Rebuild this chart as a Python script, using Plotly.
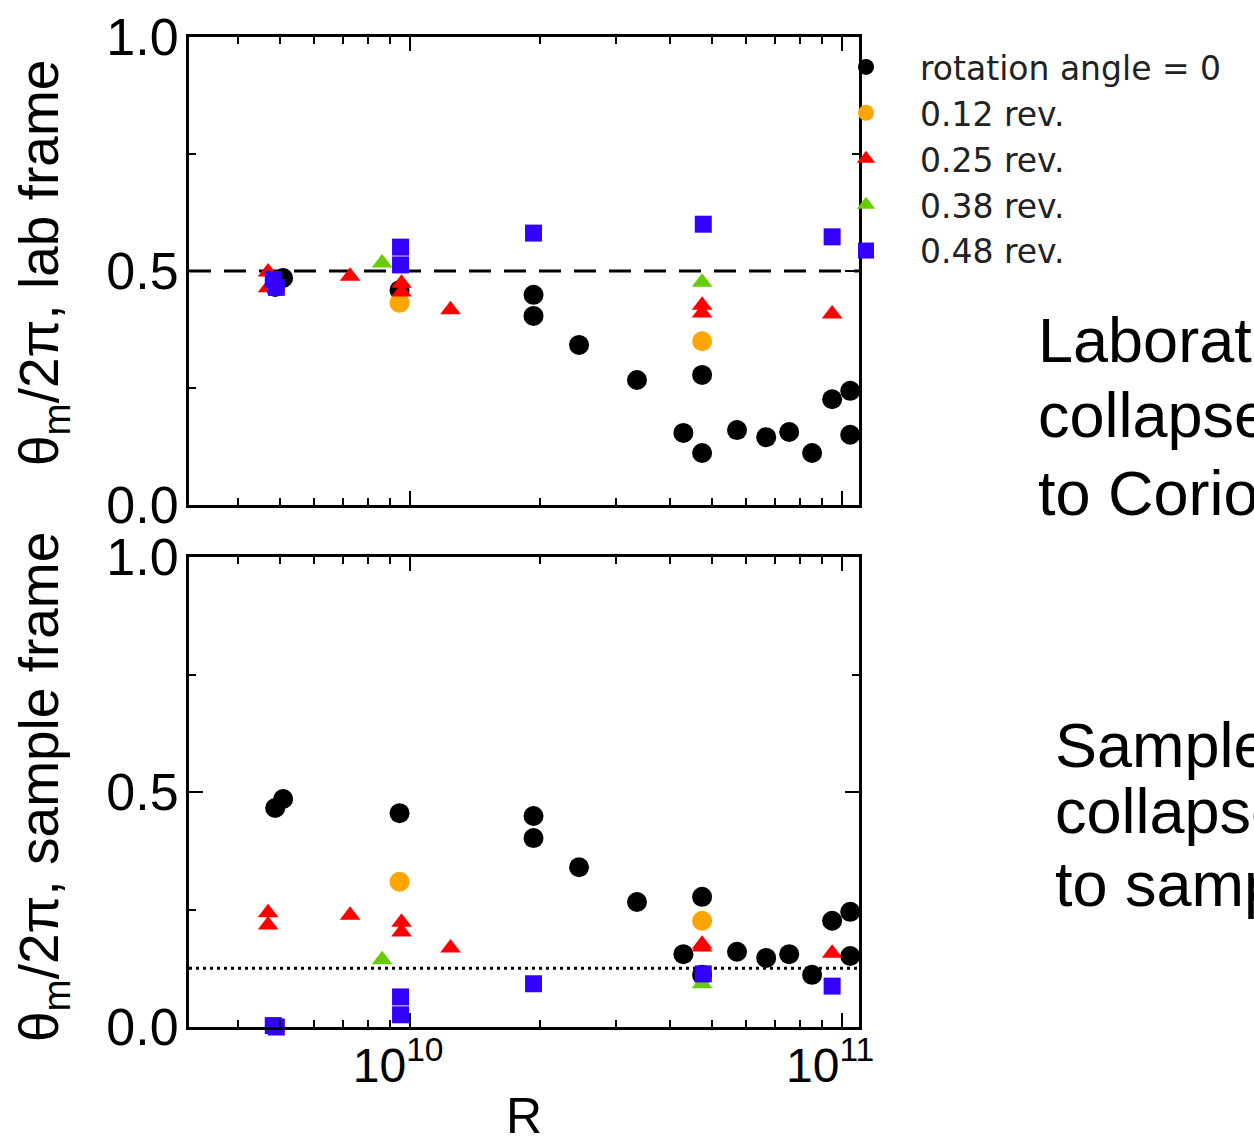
import plotly.graph_objects as go

W, H = 1254, 1145

# ---------------- data ----------------
series_names = ["rotation angle = 0", "0.12 rev.", "0.25 rev.", "0.38 rev.", "0.48 rev."]

R_black = [4.87e9, 5.08e9, 9.45e9, 1.93e10, 1.93e10, 2.46e10, 3.35e10, 4.29e10, 4.74e10,
           4.74e10, 5.71e10, 6.67e10, 7.54e10, 8.52e10, 9.48e10, 1.044e11, 1.044e11]
lab_black = [0.466, 0.485, 0.459, 0.449, 0.404, 0.342, 0.267, 0.154, 0.278,
             0.111, 0.160, 0.145, 0.156, 0.111, 0.226, 0.244, 0.150]
smp_black = [0.466, 0.485, 0.455, 0.449, 0.402, 0.340, 0.266, 0.155, 0.277,
             0.111, 0.160, 0.147, 0.155, 0.111, 0.226, 0.245, 0.151]

R_orange = [9.45e9, 4.74e10]
lab_orange = [0.432, 0.350]
smp_orange = [0.309, 0.226]

R_red = [4.69e9, 4.69e9, 7.26e9, 9.55e9, 9.55e9, 1.24e10, 4.74e10, 4.74e10, 9.48e10]
lab_red = [0.498, 0.464, 0.489, 0.474, 0.455, 0.417, 0.427, 0.410, 0.408]
smp_red = [0.243, 0.217, 0.238, 0.223, 0.202, 0.168, 0.176, 0.170, 0.157]

R_green = [8.61e9, 4.74e10]
lab_green = [0.517, 0.476]
smp_green = [0.143, 0.092]

R_blue = [4.82e9, 4.9e9, 9.5e9, 9.5e9, 1.93e10, 4.77e10, 9.48e10]
lab_blue = [0.482, 0.465, 0.551, 0.513, 0.581, 0.600, 0.573]
smp_blue = [0.003, 0.0, 0.064, 0.026, 0.092, 0.113, 0.087]

lab_ref = 0.5
smp_ref = 0.125

x_tickvals = [1e10, 1e11]
x_ticktext = ["10<sup>10</sup>", "10<sup>11</sup>"]
x_minor = [4e9, 5e9, 6e9, 7e9, 8e9, 9e9, 2e10, 3e10, 4e10, 5e10, 6e10, 7e10, 8e10, 9e10]
y_tickvals = [0.0, 0.5, 1.0]
y_ticktext = ["0.0", "0.5", "1.0"]

# ---------------- styles ----------------
colors = ["#000000", "#ffa500", "#ff0000", "#66cc00", "#3300ff"]
symbols = ["circle", "circle", "triangle-up", "triangle-up", "square"]
sizes = [20, 20, 18, 18, 17]

def px_x(p):
    return p / W

def px_y(p):
    return 1 - p / H

fig = go.Figure()

groups = [
    (R_black, lab_black, smp_black),
    (R_orange, lab_orange, smp_orange),
    (R_red, lab_red, smp_red),
    (R_green, lab_green, smp_green),
    (R_blue, lab_blue, smp_blue),
]
for i, (rr, lab, smp) in enumerate(groups):
    mk = dict(color=colors[i], symbol=symbols[i], size=sizes[i], line=dict(width=0))
    fig.add_trace(go.Scatter(x=rr, y=lab, mode="markers", marker=mk, name=series_names[i],
                             xaxis="x", yaxis="y", cliponaxis=False, showlegend=True))
for i, (rr, lab, smp) in enumerate(groups):
    mk = dict(color=colors[i], symbol=symbols[i], size=sizes[i], line=dict(width=0))
    fig.add_trace(go.Scatter(x=rr, y=smp, mode="markers", marker=mk, name=series_names[i],
                             xaxis="x2", yaxis="y2", cliponaxis=False, showlegend=False))

xdom = [px_x(189), px_x(859)]
xrange = [9.488, 11.039]

common_x = dict(type="log", range=xrange, domain=xdom, showgrid=False, zeroline=False,
                showline=True, linecolor="black", linewidth=3, mirror="allticks",
                ticks="inside", ticklen=14, tickwidth=2, tickcolor="black",
                tickmode="array", tickvals=x_tickvals, ticktext=x_ticktext,
                minor=dict(tickmode="array", tickvals=x_minor, ticks="inside", ticklen=7,
                           tickwidth=1.5, tickcolor="black", showgrid=False),
                automargin=False)
common_y = dict(range=[0, 1], showgrid=False, zeroline=False,
                showline=True, linecolor="black", linewidth=3, mirror="allticks",
                ticks="inside", ticklen=14, tickwidth=2, tickcolor="black",
                tickmode="array", tickvals=y_tickvals, ticktext=y_ticktext,
                minor=dict(dtick=0.25, ticks="inside", ticklen=7, tickwidth=1.5,
                           tickcolor="black", showgrid=False),
                tickfont=dict(family="Liberation Sans", size=52, color="black"),
                ticklabelstandoff=-3, automargin=False)

fig.update_layout(
    template="none",
    width=W, height=H, autosize=False,
    margin=dict(l=0, r=0, t=0, b=0),
    paper_bgcolor="white", plot_bgcolor="rgba(0,0,0,0)",
    xaxis=dict(common_x, anchor="y", showticklabels=False),
    yaxis=dict(common_y, anchor="x", domain=[px_y(505), px_y(37)]),
    xaxis2=dict(common_x, anchor="y2", showticklabels=True,
                tickfont=dict(family="Liberation Sans", size=48, color="black"),
                ticklabelstandoff=-6, ticklabelshift=-12,
                title=dict(text="R", font=dict(family="Liberation Sans", size=50, color="black"),
                           standoff=8)),
    yaxis2=dict(common_y, anchor="x2", domain=[px_y(1027), px_y(557)]),
    legend=dict(x=px_x(812), xanchor="left", y=px_y(39), yanchor="top",
                bgcolor="rgba(0,0,0,0)", borderwidth=0, itemwidth=98,
                font=dict(family="DejaVu Sans", size=33, color="#222222"),
                tracegroupgap=0),
    showlegend=True,
)

# reference lines
fig.add_shape(type="line", xref="x domain", yref="y", x0=0, x1=1, y0=lab_ref, y1=lab_ref,
              line=dict(color="black", width=3, dash="22px,13px"), layer="below")
fig.add_shape(type="line", xref="x2 domain", yref="y2", x0=0, x1=1, y0=smp_ref, y1=smp_ref,
              line=dict(color="black", width=3, dash="3px,4px"), layer="below")

# y-axis titles
ytitle_font = dict(family="Liberation Sans", size=55, color="black")
fig.add_annotation(text="θ<sub>m</sub>/2π, lab frame", xref="paper", yref="paper",
                   x=px_x(43), y=px_y(263), textangle=-90, showarrow=False,
                   xanchor="center", yanchor="middle", font=ytitle_font)
fig.add_annotation(text="θ<sub>m</sub>/2π, sample frame", xref="paper", yref="paper",
                   x=px_x(43), y=px_y(787), textangle=-90, showarrow=False,
                   xanchor="center", yanchor="middle", font=ytitle_font)

# right-side text
side_font = dict(family="Liberation Sans", size=63, color="black")
top_lines = ["Laboratory frame", "collapses", "to Coriolis"]
top_y = [340, 415, 493]
for t, yy in zip(top_lines, top_y):
    fig.add_annotation(text=t, xref="paper", yref="paper", x=px_x(1036), y=px_y(yy),
                       xanchor="left", yanchor="middle", showarrow=False, font=side_font)
bot_lines = ["Sample frame", "collapses", "to sample"]
bot_y = [745, 811, 884]
for t, yy in zip(bot_lines, bot_y):
    fig.add_annotation(text=t, xref="paper", yref="paper", x=px_x(1053), y=px_y(yy),
                       xanchor="left", yanchor="middle", showarrow=False, font=side_font)

fig.write_html("out.html")
